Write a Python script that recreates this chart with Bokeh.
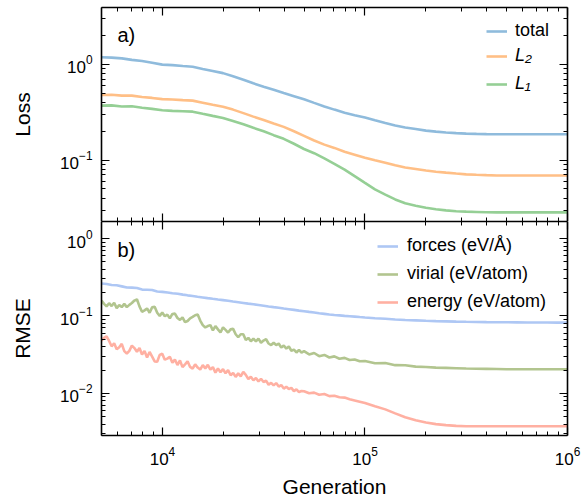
from bokeh.plotting import figure
from bokeh.models import (Range1d, LogAxis, FixedTicker, CustomJSTickFormatter,
                          Legend, LegendItem, Label)
from bokeh.layouts import column
from bokeh.embed import file_html
from bokeh.resources import INLINE

# ---------------- data ----------------
gen_top = [5000, 5610, 6300, 7060, 7930, 8890, 9980, 11200, 12600, 14100, 15800,
           17700, 19900, 22300, 25100, 28100, 31600, 35400, 39700, 44600, 50000,
           56100, 63000, 70600, 79300, 88900, 100000, 112000, 126000, 141000,
           158000, 178000, 200000, 224000, 251000, 282000, 316000, 355000,
           398000, 447000, 501000, 631000, 794000, 1000000]

loss_total = [1.18, 1.17, 1.15, 1.11, 1.08, 1.035, 0.99, 0.977, 0.957, 0.94, 0.893,
              0.85, 0.807, 0.748, 0.689, 0.632, 0.583, 0.541, 0.501, 0.464, 0.43,
              0.395, 0.363, 0.336, 0.312, 0.294, 0.278, 0.26, 0.244, 0.23, 0.219,
              0.211, 0.203, 0.198, 0.194, 0.191, 0.189, 0.1875, 0.1866, 0.186,
              0.186, 0.186, 0.186, 0.186]
loss_l2 = [0.477, 0.48, 0.47, 0.47, 0.455, 0.445, 0.432, 0.428, 0.422, 0.417, 0.397,
           0.378, 0.36, 0.336, 0.309, 0.284, 0.262, 0.241, 0.222, 0.2, 0.179, 0.16,
           0.145, 0.134, 0.122, 0.114, 0.106, 0.0998, 0.0938, 0.0883, 0.0839,
           0.0809, 0.078, 0.0757, 0.074, 0.0724, 0.071, 0.0703, 0.0697, 0.0692,
           0.069, 0.069, 0.069, 0.069]
loss_l1 = [0.37, 0.372, 0.362, 0.364, 0.352, 0.342, 0.331, 0.326, 0.323, 0.32, 0.304,
           0.289, 0.275, 0.256, 0.236, 0.217, 0.1995, 0.182, 0.1667, 0.148, 0.1306,
           0.118, 0.104, 0.0915, 0.0795, 0.068, 0.0578, 0.0495, 0.0437, 0.0389,
           0.0355, 0.0335, 0.0318, 0.0307, 0.0299, 0.0293, 0.029, 0.0288, 0.0286,
           0.0285, 0.0285, 0.0285, 0.0285, 0.0285]

gen_fine = [5000, 5300, 5610, 5940, 6300, 6670, 7060, 7480, 7930, 8390, 8890, 9420,
            9980, 10600, 11200, 11900, 12600, 13300, 14100, 14900, 15800, 16700,
            17700, 18800, 19900, 21100, 22300, 23700, 25100, 26500, 28100, 29800,
            31600, 33400, 35400, 37500, 39700, 42100, 44600, 47200, 50000, 53000,
            56100, 59400, 63000, 66700, 70600, 74800, 79300, 84000, 88900, 94200,
            100000, 112000, 126000, 141000, 158000, 178000, 200000, 224000, 251000,
            282000, 316000, 355000, 398000, 447000, 501000, 562000, 631000, 708000,
            794000, 891000, 1000000]

rmse_forces = [0.262, 0.259, 0.251, 0.249, 0.241, 0.233, 0.232, 0.229, 0.219, 0.218,
               0.216, 0.207, 0.2047, 0.2004, 0.1963, 0.1935, 0.1884, 0.1845, 0.1807,
               0.177, 0.1734, 0.1698, 0.1663, 0.163, 0.160, 0.1567, 0.1535, 0.1503,
               0.1472, 0.1442, 0.1413, 0.1384, 0.1355, 0.1327, 0.130, 0.1274, 0.1247,
               0.1222, 0.1197, 0.1172, 0.115, 0.1127, 0.1106, 0.1084, 0.1064, 0.1045,
               0.1028, 0.1016, 0.1002, 0.0991, 0.098, 0.0967, 0.0955,
               0.0935, 0.0918, 0.09, 0.0885, 0.0875, 0.0865, 0.0857, 0.0851, 0.0845,
               0.084, 0.0836, 0.0832, 0.083, 0.0828, 0.0826, 0.0824, 0.0822, 0.0822,
               0.082, 0.082]

gen_dense = [5000, 5146, 5296, 5451, 5610, 5774, 5942, 6116, 6295, 6478, 6668, 6862,
             7063, 7269, 7481, 7700, 7925, 8156, 8394, 8639, 8891, 9151, 9418, 9693,
             9976, 10267, 10567, 10876, 11194, 11520, 11857, 12203, 12559, 12926,
             13304, 13692, 14092, 14503, 14927, 15362, 15811, 16273, 16749, 17237,
             17741, 18259, 18792, 19341, 19905, 20487, 21085, 21701, 22335, 22987,
             23659, 24350, 25061, 25792, 26546, 27321, 28119, 28940, 29785, 30655,
             31550, 32471, 33420, 34396, 35401, 36434, 37499, 38594, 39721, 40881,
             42075, 43304, 44569, 45870, 47210, 48588, 50008,
             53000, 56100, 59400, 63000, 66700, 70600, 74800, 79300, 84000, 88900,
             94200, 100000, 112000, 126000, 141000, 158000, 178000, 200000, 224000,
             251000, 282000, 316000, 355000, 398000, 447000, 501000, 562000, 631000,
             708000, 794000, 891000, 1000000]

rmse_virial = [0.158, 0.143, 0.133, 0.146, 0.134, 0.148, 0.126, 0.138, 0.130, 0.143,
               0.130, 0.139, 0.147, 0.158, 0.164, 0.133, 0.113, 0.118, 0.125, 0.110,
               0.129, 0.131, 0.110, 0.100, 0.111, 0.099, 0.104, 0.093, 0.106, 0.107,
               0.094, 0.089, 0.096, 0.083, 0.086, 0.093, 0.097, 0.102, 0.104, 0.087,
               0.076, 0.071, 0.074, 0.076, 0.065, 0.074, 0.067, 0.061, 0.071, 0.066,
               0.061, 0.067, 0.068, 0.058, 0.053, 0.058, 0.058, 0.049, 0.052, 0.047,
               0.051, 0.047, 0.051, 0.045, 0.048, 0.050, 0.044, 0.042, 0.045, 0.042,
               0.044, 0.039, 0.0415, 0.0378, 0.0403, 0.0355, 0.0367, 0.0337, 0.0364,
               0.0335, 0.0350,
               0.0318, 0.0332, 0.0302, 0.0313, 0.0290, 0.0300, 0.0280, 0.0287, 0.0269,
               0.0274, 0.0259, 0.0261,
               0.0245, 0.0246, 0.0231, 0.0230, 0.0221, 0.0219, 0.0215, 0.0213, 0.0211,
               0.0209, 0.0208, 0.0207, 0.0206, 0.0205, 0.0205, 0.0205, 0.0205, 0.0205,
               0.0205, 0.0205]

rmse_energy = [0.0478, 0.0522, 0.0546, 0.0475, 0.0405, 0.0443, 0.0370, 0.0394,
               0.0436, 0.0351, 0.0327, 0.0353, 0.0414, 0.0384, 0.0344, 0.0385,
               0.0317, 0.0352, 0.0290, 0.0342, 0.0298, 0.0258, 0.0256, 0.0314,
               0.0325, 0.0272, 0.0281, 0.0297, 0.0249, 0.0273, 0.0232, 0.0266,
               0.0218, 0.0237, 0.0259, 0.0219, 0.0209, 0.0237, 0.0215, 0.0203,
               0.0232, 0.0210, 0.0233, 0.0202, 0.0218, 0.0185, 0.0209, 0.0187,
               0.0205, 0.0182, 0.0199, 0.0171, 0.0183, 0.0163, 0.0181, 0.0166,
               0.0189, 0.0173, 0.0153, 0.0164, 0.0147, 0.0158, 0.01425, 0.0154,
               0.0140, 0.01456, 0.0129, 0.01367, 0.01267, 0.01355, 0.01222, 0.01279,
               0.0115, 0.01215, 0.01137, 0.01175, 0.01066, 0.01123, 0.01038, 0.01071,
               0.01061,
               0.0100, 0.0102, 0.0096, 0.0098, 0.0092, 0.0093, 0.0089, 0.0088, 0.0084,
               0.0081, 0.0078, 0.0075,
               0.0068, 0.0062, 0.0055, 0.0049, 0.0045, 0.0042, 0.0040, 0.00388, 0.0038,
               0.00376, 0.00375, 0.00375, 0.00375, 0.00375, 0.00375, 0.00375, 0.00375,
               0.00375, 0.00375, 0.00375]

x_major = [1e4, 1e5, 1e6]
x_minor = [m * 10 ** e for e in (3, 4, 5) for m in range(2, 10)]
y_major = [1e-3, 1e-2, 1e-1, 1e0, 1e1]
y_minor = [m * 10 ** e for e in (-3, -2, -1, 0) for m in range(2, 10)]

top_labels = ["total", "L\u2082", "L\u2081"]
bottom_labels = ["forces (eV/\u00c5)", "virial (eV/atom)", "energy (eV/atom)"]

FONT = "Liberation Sans"
LW = 2.6


def style_axis(ax, ticker, labels=True):
    ax.ticker = ticker
    ax.axis_line_width = 1.6
    ax.axis_line_color = "black"
    ax.major_tick_in = 8
    ax.major_tick_out = 0
    ax.minor_tick_in = 4
    ax.minor_tick_out = 0
    ax.major_tick_line_width = 1.2
    ax.minor_tick_line_width = 1
    ax.major_tick_line_color = "black"
    ax.minor_tick_line_color = "black"
    ax.major_label_text_font = FONT
    ax.major_label_text_font_size = "17px"
    ax.major_label_text_color = "black"
    ax.axis_label_text_font = FONT
    ax.axis_label_text_font_size = "21px"
    ax.axis_label_text_font_style = "normal"
    ax.axis_label_text_color = "black"
    if not labels:
        ax.formatter = CustomJSTickFormatter(code="return ''")
        ax.major_label_standoff = 0
        ax.major_label_text_font_size = "0px"


def make_fig(height, yr, top, bottom):
    p = figure(width=581, height=height, x_axis_type="log", y_axis_type="log",
               x_range=Range1d(5000, 1e6), y_range=Range1d(*yr),
               output_backend="svg", toolbar_location=None,
               min_border_left=101, min_border_right=14,
               min_border_top=top, min_border_bottom=bottom)
    p.grid.visible = False
    p.outline_line_color = None
    p.background_fill_color = "white"
    p.border_fill_color = "white"
    return p


def make_legend(items, loc, italic=False, standoff=8):
    return Legend(items=items, location=loc, background_fill_alpha=0,
                  border_line_alpha=0, padding=4, spacing=7, glyph_width=21,
                  glyph_height=20, label_height=20, label_standoff=standoff,
                  label_text_font=FONT, label_text_font_size="18px",
                  label_text_color="black", margin=0,
                  label_text_font_style="italic" if italic else "normal")


xt = FixedTicker(ticks=x_major, minor_ticks=x_minor)
yt = FixedTicker(ticks=y_major, minor_ticks=y_minor)

# ---------------- top panel ----------------
p1 = make_fig(221, (0.0229, 3.9), 7, 0)
style_axis(p1.xaxis[0], xt, labels=False)
style_axis(p1.yaxis[0], yt, labels=True)
p1.yaxis[0].axis_label = "Loss"
p1.yaxis[0].major_label_standoff = 9
p1.yaxis[0].axis_label_standoff = 23
ra = LogAxis(); style_axis(ra, yt, labels=False); p1.add_layout(ra, "right")
ta = LogAxis(); style_axis(ta, xt, labels=False); p1.add_layout(ta, "above")

r_total = p1.line(gen_top, loss_total, line_color="#8fbbdc", line_width=LW)
r_l2 = p1.line(gen_top, loss_l2, line_color="#ffbf86", line_width=LW)
r_l1 = p1.line(gen_top, loss_l1, line_color="#95cf95", line_width=LW)

p1.add_layout(make_legend([LegendItem(label=top_labels[0], renderers=[r_total])],
                          (381, 176)))
p1.add_layout(make_legend([LegendItem(label=top_labels[1], renderers=[r_l2]),
                           LegendItem(label=top_labels[2], renderers=[r_l1])],
                          (381, 123), italic=True))
p1.add_layout(Label(x=5990, y=2.0, text="a)", text_font=FONT, text_font_size="20px",
                    text_baseline="middle", text_color="black"))

# ---------------- bottom panel ----------------
p2 = make_fig(280, (0.00285, 1.66), 0, 66)
style_axis(p2.xaxis[0], xt, labels=True)
p2.xaxis[0].axis_label = "Generation"
p2.xaxis[0].major_label_standoff = 11
p2.xaxis[0].axis_label_standoff = 7
style_axis(p2.yaxis[0], yt, labels=True)
p2.yaxis[0].axis_label = "RMSE"
p2.yaxis[0].major_label_standoff = 9
p2.yaxis[0].axis_label_standoff = 23
ra2 = LogAxis(); style_axis(ra2, yt, labels=False); p2.add_layout(ra2, "right")
ta2 = LogAxis(); style_axis(ta2, xt, labels=False); p2.add_layout(ta2, "above")

r_f = p2.line(gen_fine, rmse_forces, line_color="#aec7f4", line_width=LW)
r_v = p2.line(gen_dense, rmse_virial, line_color="#b2c58f", line_width=LW)
r_e = p2.line(gen_dense, rmse_energy, line_color="#ffb0a2", line_width=LW)

p2.add_layout(make_legend([LegendItem(label=bottom_labels[0], renderers=[r_f]),
                           LegendItem(label=bottom_labels[1], renderers=[r_v]),
                           LegendItem(label=bottom_labels[2], renderers=[r_e])],
                          (272, 119), standoff=9))
p2.add_layout(Label(x=5990, y=0.71, text="b)", text_font=FONT, text_font_size="20px",
                    text_baseline="middle", text_color="black"))

layout = column(p1, p2, spacing=0)
open("out.html", "w").write(file_html(layout, INLINE))
